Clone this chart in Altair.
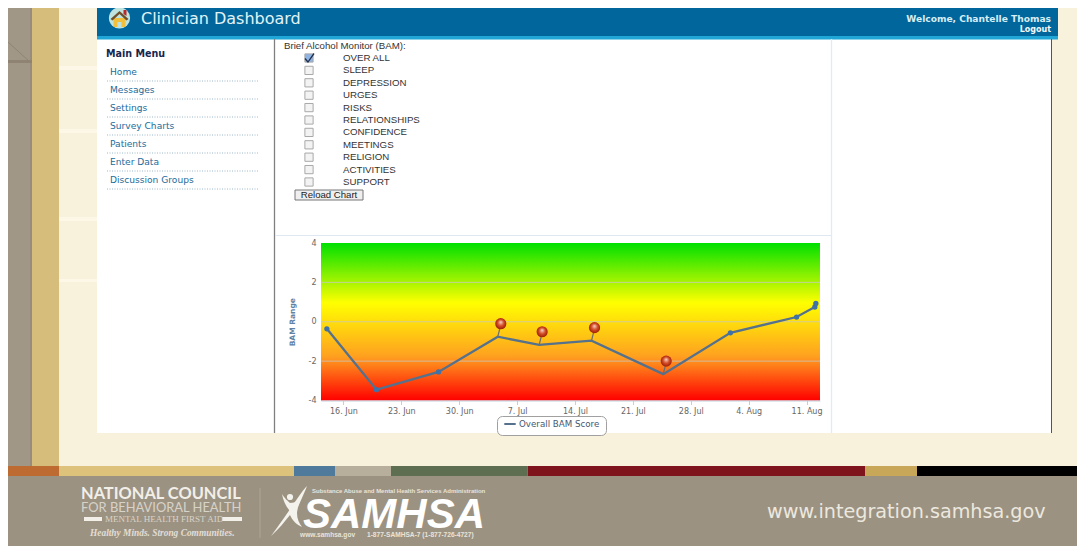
import altair as alt
import pandas as pd

# ---------- data ----------
menu_items = ["Home", "Messages", "Settings", "Survey Charts", "Patients", "Enter Data", "Discussion Groups"]
bam_items = ["OVER ALL", "SLEEP", "DEPRESSION", "URGES", "RISKS", "RELATIONSHIPS", "CONFIDENCE",
             "MEETINGS", "RELIGION", "ACTIVITIES", "SUPPORT"]
bam_dates = ["2014-06-14T00:00:00", "2014-06-20T00:00:00", "2014-06-27T12:00:00", "2014-07-04T16:00:00",
             "2014-07-09T16:00:00", "2014-07-16T00:00:00", "2014-07-24T16:00:00", "2014-08-01T19:00:00",
             "2014-08-09T19:00:00", "2014-08-12T00:00:00", "2014-08-12T03:00:00"]
bam_values = [-0.36, -3.45, -2.55, -0.76, -1.17, -0.96, -2.66, -0.56, 0.24, 0.75, 0.93]
pinned = [False, False, False, True, True, True, True, False, False, False, False]
grid_values = [-2, 0, 2]
y_ticks = [-4, -2, 0, 2, 4]
x_tick_days = [(6, 16), (6, 23), (6, 30), (7, 7), (7, 14), (7, 21), (7, 28), (8, 4), (8, 11)]
series_name = "Overall BAM Score"

W, H = 1085, 547
ONE = pd.DataFrame({"a": [0]})
DV, LS, LI = "DejaVu Sans", "Liberation Sans", "Liberation Serif"


# ---------- helpers for the page furniture ----------
def box(x, x2, y, y2, fill, **kw):
    return alt.Chart(ONE).mark_rect(color=fill, **kw).encode(
        x=alt.value(x), x2=alt.value(x2), y=alt.value(y), y2=alt.value(y2))


def hline(x, x2, y, color, **kw):
    return alt.Chart(ONE).mark_rule(color=color, **kw).encode(
        x=alt.value(x), x2=alt.value(x2), y=alt.value(y))


def vline(x, y, y2, color, **kw):
    return alt.Chart(ONE).mark_rule(color=color, **kw).encode(
        x=alt.value(x), y=alt.value(y), y2=alt.value(y2))


def label(text, x, y, size, color, font=DV, **kw):
    kw.setdefault("align", "left")
    return alt.Chart(ONE).mark_text(text=text, font=font, fontSize=size, color=color, baseline="middle", **kw).encode(
        x=alt.value(x), y=alt.value(y))


def glyph(path, x, y, fill):
    return alt.Chart(ONE).mark_point(shape=path, filled=True, size=4, color=fill, opacity=1).encode(
        x=alt.value(x), y=alt.value(y))


def stroke_path(path, x, y, color, width=1.0):
    return alt.Chart(ONE).mark_point(shape=path, size=4, color=color, strokeWidth=width, opacity=1).encode(
        x=alt.value(x), y=alt.value(y))


menu_y = alt.Y("item:N", sort=menu_items, axis=None,
               scale=alt.Scale(type="point", domain=menu_items, range=[72, 180], padding=0))
bam_y = alt.Y("item:N", sort=bam_items, axis=None,
              scale=alt.Scale(type="point", domain=bam_items, range=[58, 182], padding=0))

layers = [
    # page background
    box(5, 32, 0, 466, "#a09787"),
    vline(31, 0, 466, "#94897a", strokeWidth=1.5),
    stroke_path("M0 0 L22 20", 8, 42, "#8f8576"),
    box(8, 32, 60, 63, "#8f8474"),
    box(32, 59, 0, 466, "#d6bd7c"),
    box(59, W, 0, 466, "#f8f1dc"),
    box(59, 97, 66, 70, "#fdf7e8"),
    box(59, 97, 129, 133, "#fdf7e8"),
    box(59, 97, 217, 221, "#fdf7e8"),
    box(59, 97, 279, 282, "#fdf7e8"),
    # bottom stripes and footer
    box(5, 59, 466, 476, "#bd6b30"),
    box(59, 294, 466, 476, "#dcc27a"),
    box(294, 335, 466, 476, "#4f7a9c"),
    box(335, 391, 466, 476, "#b8ae9c"),
    box(391, 527.5, 466, 476, "#5d6f50"),
    box(527.5, 865, 466, 476, "#7f141c"),
    box(865, 917, 466, 476, "#c8a858"),
    box(917, W, 466, 476, "#000000"),
    box(5, W, 476, 546, "#9c9282"),
    # panels
    box(97, 1052, 39, 433, "#ffffff"),
    box(97, 1058, 4, 36, "#00669b"),
    box(97, 1058, 36, 39.5, "#1fa6d6"),
    vline(274.5, 39, 433, "#808080", strokeWidth=1.3),
    vline(1051.5, 39, 433, "#555555", strokeWidth=1),
    vline(831.5, 39, 433, "#e2ebf5", strokeWidth=1.3),
    hline(275, 831, 235.5, "#dfe7f1", strokeWidth=1),
    # header
    alt.Chart(ONE).mark_circle(size=450, color="#bfe3df", opacity=1).encode(x=alt.value(119.5), y=alt.value(18)),
    glyph("M-6 0 L6 0 L6 9 L2 9 L2 4 L-2 4 L-2 9 L-6 9 Z", 119.5, 18, "#f0bf3c"),
    glyph("M-9 1 L0 -7 L9 1 L7 2.5 L0 -4 L-7 2.5 Z", 119.5, 18, "#70502c"),
    glyph("M4 -8 L7 -8 L7 -2 L4 -4 Z", 119.5, 18, "#b8282c"),
    label("Clinician Dashboard", 141, 19, 16, "#e2f3f6"),
    label("Welcome, Chantelle Thomas", 1051, 18.5, 9.1, "#d8eef5", font=DV, fontWeight="bold", align="right"),
    label("Logout", 1051, 29.5, 8, "#f4fafc", font=DV, fontWeight="bold", align="right"),
    # menu
    label("Main Menu", 106, 53.5, 9.6, "#17264f", fontWeight="bold"),
    alt.Chart(pd.DataFrame({"item": menu_items})).mark_rule(
        color="#9db8cb", strokeDash=[1, 1.5], yOffset=9).encode(
        x=alt.value(107), x2=alt.value(258), y=menu_y),
    alt.Chart(pd.DataFrame({"item": menu_items})).mark_text(
        align="left", baseline="middle", font=DV, fontSize=9.1, color="#1c6b9b").encode(
        text="item:N", x=alt.value(110), y=menu_y),
    # survey form
    label("Brief Alcohol Monitor (BAM):", 284, 46, 9.7, "#333333", font=LS),
    alt.Chart(pd.DataFrame({"item": bam_items, "checked": [i == 0 for i in range(len(bam_items))]})).mark_point(
        shape="square", filled=True, size=68, stroke="#a8a8a8", strokeWidth=1, opacity=1).encode(
        x=alt.value(309), y=bam_y,
        fill=alt.condition("datum.checked", alt.value("#8fb4e4"), alt.value("#f3f3f3"))),
    glyph("M-4 0 L-1.5 3 L4 -5 L5 -4 L-1.5 5 L-5 1 Z", 309.5, 58, "#1d2b4a"),
    alt.Chart(pd.DataFrame({"item": bam_items})).mark_text(
        align="left", baseline="middle", font=LS, fontSize=9.7, color="#333333").encode(
        text="item:N", x=alt.value(343), y=bam_y),
    box(295, 363, 190, 200, "#efefef", stroke="#777777", strokeWidth=1),
    label("Reload Chart", 329, 194.5, 9.6, "#222222", font=LS, align="center"),
    # footer text
    label("NATIONAL COUNCIL", 81, 494, 16.4, "#f2efe9", font="Lato", fontWeight="bold"),
    label("FOR BEHAVIORAL HEALTH", 81, 507.5, 12.9, "#d8d3c8", font="Lato"),
    box(84, 102, 517, 521, "#f2efe9"),
    box(222, 242, 517, 521, "#f2efe9"),
    label("MENTAL HEALTH FIRST AID", 105, 519, 9.0, "#d8d3c8", font=LI),
    label("Healthy Minds. Strong Communities.", 90, 533, 9.4, "#e2ded5", font=LI, fontStyle="italic", fontWeight="bold"),
    vline(260, 488, 538, "#aea597", strokeWidth=1),
    glyph("M-18 25 C-8 12 -2 2 4 -6 C8 -12 13 -20 18 -25 C14 -14 8 -4 8 2 C8 8 10 12 13 16 "
          "C8 14 3 9 1 4 C-4 10 -10 18 -18 25 Z", 289, 511, "#f4f2ec"),
    glyph("M-7 -17 C-4 -12 -1 -10 1 -8 C4 -8 6 -9 8 -10 C5 -6 3 -3 1 0 C-3 -4 -6 -11 -7 -17 Z", 289, 511, "#f4f2ec"),
    alt.Chart(ONE).mark_circle(size=38, color="#f4f2ec", opacity=1).encode(x=alt.value(290), y=alt.value(497)),
    label("Substance Abuse and Mental Health Services Administration", 312, 491, 6.0, "#e8e4da", font=LS, fontWeight="bold"),
    label("SAMHSA", 303, 515, 42, "#ffffff", font=LS, fontWeight="bold", fontStyle="italic"),
    label("www.samhsa.gov", 300, 535, 6.6, "#e8e4da", font=LS, fontWeight="bold"),
    label("1-877-SAMHSA-7 (1-877-726-4727)", 367, 535, 6.6, "#e8e4da", font=LS, fontWeight="bold"),
    label("www.integration.samhsa.gov", 767, 512, 19.2, "#ece8df", font=DV),
]

# ---------- the chart itself ----------
x_scale = alt.Scale(domain=[alt.DateTime(year=2014, month=6, date=13, hours=7),
                            alt.DateTime(year=2014, month=8, date=12, hours=15)], range=[321, 820])
y_scale = alt.Scale(domain=[-4, 4], range=[400.5, 243], nice=False, zero=False)

frame = pd.DataFrame({"date": bam_dates, "value": bam_values, "pinned": pinned, "series": series_name})
plain = frame[~frame["pinned"]]
pins = frame[frame["pinned"]]
plot_band = pd.DataFrame({"t0": ["2014-06-13T07:00:00"], "t1": ["2014-08-12T15:00:00"], "low": [-4], "high": [4]})

gradient = alt.Gradient(gradient="linear", x1=0, x2=0, y1=0, y2=1, stops=[
    alt.GradientStop(color="#00e000", offset=0),
    alt.GradientStop(color="#ffff00", offset=0.38),
    alt.GradientStop(color="#ffa020", offset=0.72),
    alt.GradientStop(color="#ff0000", offset=1)])

x_axis = alt.Axis(
    values=[alt.DateTime(year=2014, month=m, date=d) for m, d in x_tick_days],
    format="%-d. %b", title=None, grid=False, orient="bottom", offset=-(H - 400.5), zindex=1,
    domainColor="#c0d0e0", tickColor="#c0d0e0", tickSize=4, labelFont=DV, labelFontSize=8,
    labelColor="#666666", labelPadding=3, labelOverlap=False, labelFlush=False, labelBound=False)
y_axis = alt.Axis(
    values=y_ticks, labelExpr="'' + datum.value", title="BAM Range", titleX=-25, orient="left", offset=-321,
    grid=False, domain=False, ticks=False, zindex=1, labelFont=DV, labelFontSize=8, labelColor="#666666",
    labelPadding=5, titleFont=DV, titleFontSize=7.5, titleFontWeight="bold", titleColor="#5f82a6")

X = alt.X("date:T", scale=x_scale, axis=None)
Y = alt.Y("value:Q", scale=y_scale, axis=None)

layers += [
    alt.Chart(plot_band).mark_rect(color=gradient).encode(
        x=alt.X("t0:T", scale=x_scale, axis=x_axis), x2="t1:T",
        y=alt.Y("low:Q", scale=y_scale, axis=y_axis), y2="high:Q"),
    alt.Chart(pd.DataFrame({"value": grid_values})).mark_rule(color="#c8c8c8", opacity=0.75, strokeWidth=1).encode(
        x=alt.value(321), x2=alt.value(820), y=Y),
    alt.Chart(frame).mark_line(strokeWidth=2.3).encode(
        x=X, y=Y,
        color=alt.Color("series:N", scale=alt.Scale(domain=[series_name], range=["#56718c"]), legend=alt.Legend(
            orient="none", legendX=497, legendY=416, title=None, symbolType="stroke", symbolStrokeWidth=2,
            symbolSize=130, cornerRadius=5, fillColor="#ffffff", strokeColor="#a0a0a0", padding=6, clipHeight=4,
            labelFont=DV, labelFontSize=8.7, labelColor="#44586f", labelOffset=2))),
    alt.Chart(plain).mark_circle(size=28, color="#3f72a8", opacity=1).encode(x=X, y=Y),
    alt.Chart(pins).mark_point(shape="M0 0 L3 -12", size=4, color="#6e6e6e", strokeWidth=1.2, opacity=1).encode(x=X, y=Y),
    alt.Chart(pins).mark_circle(
        size=125, opacity=1, xOffset=3, yOffset=-13,
        color=alt.Gradient(gradient="radial", x1=0.5, y1=0.35, x2=0.5, y2=0.5, r1=0, r2=0.6, stops=[
            alt.GradientStop(color="#f8d8cc", offset=0),
            alt.GradientStop(color="#d4502a", offset=0.45),
            alt.GradientStop(color="#a82408", offset=0.8),
            alt.GradientStop(color="#7a1a0a", offset=1)])).encode(x=X, y=Y),
]

chart = alt.layer(*layers).resolve_scale(x="independent", y="independent").properties(
    width=W, height=H, padding={"left": -8, "top": -8, "right": -8, "bottom": 0},
    autosize=alt.AutoSizeParams(type="none"), background="#ffffff",
).configure_view(stroke=None)

chart.save("out.html", embed_options={"renderer": "svg", "actions": False})
